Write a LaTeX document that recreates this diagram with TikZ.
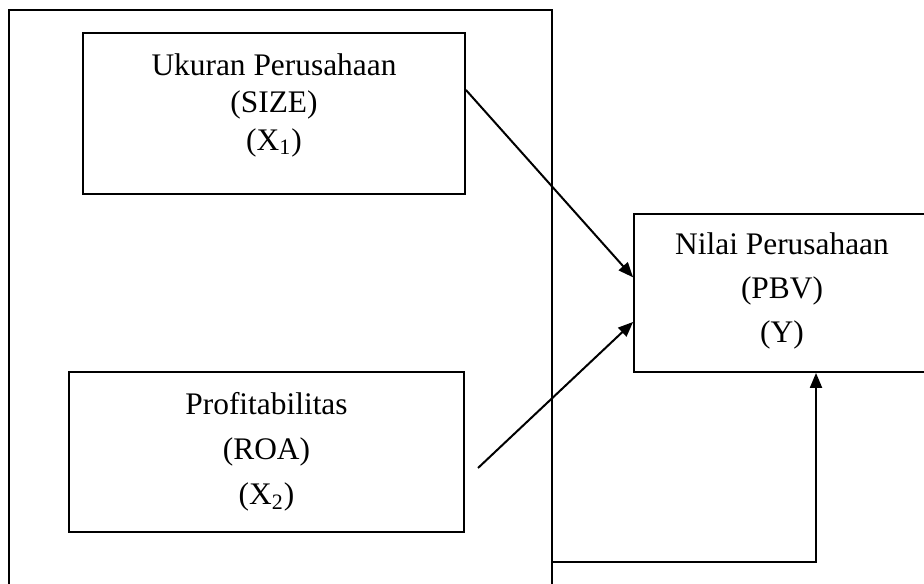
\documentclass[tikz,border=0pt]{standalone}
\usepackage{fontspec}
\setmainfont{Liberation Serif}
\usetikzlibrary{arrows.meta}
\tikzset{
    var-box/.style = {draw, line width=0.9pt, rectangle, align=center, inner sep=0pt, font=\fontsize{15.7}{22.5}\selectfont},
    frame-box/.style = {draw, line width=0.6pt, rectangle, inner sep=0pt},
    path-arrow/.style = {line width=1pt, -{Triangle[length=7.5pt,width=6pt]}},
}

\begin{document}
\begin{tikzpicture}[x=0.5pt,y=-0.5pt]
\useasboundingbox (0,0) rectangle (924,583);
\node [frame-box, minimum width=271.5pt, minimum height=300pt] (frame) at (280.5,310) {};
\node [var-box, minimum width=191pt, minimum height=80.5pt, font=\fontsize{15.7}{18.7}\selectfont, text depth=11.5pt] (size) at (274,113.5) {Ukuran Perusahaan\\(SIZE)\\(X\textsubscript{1})};
\node [var-box, minimum width=197.5pt, minimum height=80pt] (roa) at (266.5,452) {Profitabilitas\\(ROA)\\(X\textsubscript{2})};
\node [var-box, minimum width=148pt, minimum height=79pt, font=\fontsize{15.7}{22}\selectfont, text depth=5pt] (pbv) at (782,293) {Nilai Perusahaan\\(PBV)\\(Y)};
\coordinate (roa-start) at (478,468);
\coordinate (loop-corner) at (816,562);
\draw [path-arrow] (size.7.6) -- (pbv.174.2);
\draw [path-arrow] (roa-start) -- (pbv.191.5);
\draw [path-arrow] (frame.east |- loop-corner) -- (loop-corner) -- (loop-corner |- pbv.south);
\end{tikzpicture}
\end{document}
